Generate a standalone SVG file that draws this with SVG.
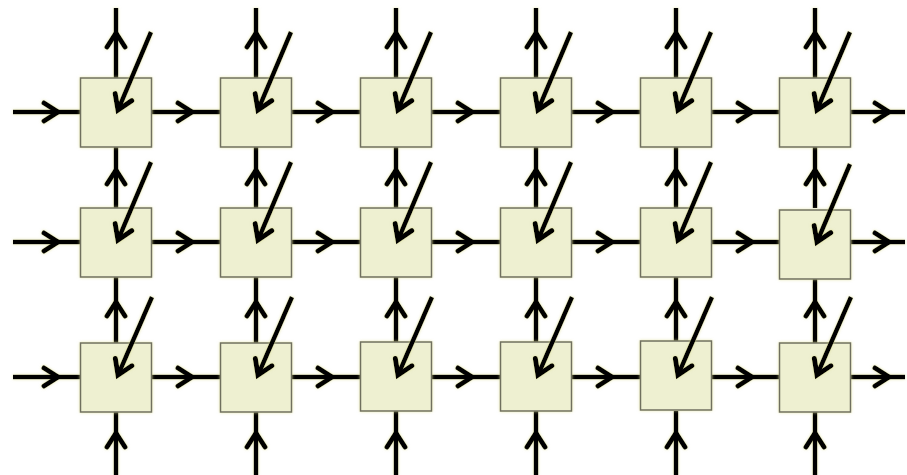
<svg xmlns="http://www.w3.org/2000/svg" width="907" height="475" viewBox="0 0 907 475">
  <style>
    .cell { fill: #eef0d1; stroke: #6f6f5f; stroke-width: 1.5; }
    .wire { fill: none; stroke: #000; stroke-width: 4.5; stroke-linecap: butt; }
    .flow { marker-mid: url(#chev); }
    .feed { marker-end: url(#chev); }
  </style>
  <defs>
    <marker id="chev" markerUnits="userSpaceOnUse" viewBox="-20 -15 26 30" markerWidth="26" markerHeight="30" refX="0" refY="0" orient="auto" overflow="visible">
      <path d="M-14,-9 L0,0 L-14,9" fill="none" stroke="#000" stroke-width="5" stroke-linejoin="miter" stroke-linecap="round"/>
    </marker>
    <filter id="halo" x="-10%" y="-10%" width="120%" height="120%">
      <feGaussianBlur in="SourceAlpha" stdDeviation="1.6" result="b"/>
      <feFlood flood-color="#d9da8c" flood-opacity="0.7"/>
      <feComposite in2="b" operator="in" result="g"/>
      <feMerge><feMergeNode in="g"/><feMergeNode in="SourceGraphic"/></feMerge>
    </filter>
  </defs>

  <!-- horizontal and vertical links between cells -->
  <g id="connectors" class="wire" filter="url(#halo)">
    <!-- row 1 (y=112) -->
    <path class="flow" d="M13,112 L58,112 L80,112"/>
    <path class="flow" d="M151,112 L192,112 L221,112"/>
    <path class="flow" d="M291,112 L332,112 L361,112"/>
    <path class="flow" d="M431,112 L472,112 L501,112"/>
    <path class="flow" d="M571,112 L612,112 L641,112"/>
    <path class="flow" d="M711,112 L752,112 L780,112"/>
    <path class="flow" d="M850,112 L889,112 L905,112"/>
    <!-- row 2 (y=242) -->
    <path class="flow" d="M13,242 L58,242 L80,242"/>
    <path class="flow" d="M151,242 L192,242 L221,242"/>
    <path class="flow" d="M291,242 L332,242 L361,242"/>
    <path class="flow" d="M431,242 L472,242 L501,242"/>
    <path class="flow" d="M571,242 L612,242 L641,242"/>
    <path class="flow" d="M711,242 L752,242 L780,242"/>
    <path class="flow" d="M850,242 L889,242 L905,242"/>
    <!-- row 3 (y=377) -->
    <path class="flow" d="M13,377 L58,377 L80,377"/>
    <path class="flow" d="M151,377 L192,377 L221,377"/>
    <path class="flow" d="M291,377 L332,377 L361,377"/>
    <path class="flow" d="M431,377 L472,377 L501,377"/>
    <path class="flow" d="M571,377 L612,377 L641,377"/>
    <path class="flow" d="M711,377 L752,377 L780,377"/>
    <path class="flow" d="M850,377 L889,377 L905,377"/>

    <!-- columns: bottom entry, between rows, top exit -->
    <path class="flow" d="M116,475 L116,433 L116,411"/>
    <path class="flow" d="M116,343 L116,302 L116,277"/>
    <path class="flow" d="M116,208 L116,170 L116,147"/>
    <path class="flow" d="M116,78 L116,33 L116,8"/>

    <path class="flow" d="M256,475 L256,433 L256,411"/>
    <path class="flow" d="M256,343 L256,302 L256,277"/>
    <path class="flow" d="M256,208 L256,170 L256,147"/>
    <path class="flow" d="M256,78 L256,33 L256,8"/>

    <path class="flow" d="M396,475 L396,433 L396,411"/>
    <path class="flow" d="M396,343 L396,302 L396,277"/>
    <path class="flow" d="M396,208 L396,170 L396,147"/>
    <path class="flow" d="M396,78 L396,33 L396,8"/>

    <path class="flow" d="M536,475 L536,433 L536,411"/>
    <path class="flow" d="M536,343 L536,302 L536,277"/>
    <path class="flow" d="M536,208 L536,170 L536,147"/>
    <path class="flow" d="M536,78 L536,33 L536,8"/>

    <path class="flow" d="M676,475 L676,433 L676,411"/>
    <path class="flow" d="M676,343 L676,302 L676,277"/>
    <path class="flow" d="M676,208 L676,170 L676,147"/>
    <path class="flow" d="M676,78 L676,33 L676,8"/>

    <path class="flow" d="M815,475 L815,433 L815,411"/>
    <path class="flow" d="M815,343 L815,302 L815,277"/>
    <path class="flow" d="M815,208 L815,170 L815,147"/>
    <path class="flow" d="M815,78 L815,33 L815,8"/>
  </g>

  <!-- processing cells -->
  <g filter="url(#halo)">
    <g id="cell-1-1"><rect class="cell" x="80.5" y="78" width="71" height="69"/></g>
    <g id="cell-1-2"><rect class="cell" x="220.5" y="78" width="71" height="69"/></g>
    <g id="cell-1-3"><rect class="cell" x="360.5" y="78" width="71" height="69"/></g>
    <g id="cell-1-4"><rect class="cell" x="500.5" y="78" width="71" height="69"/></g>
    <g id="cell-1-5"><rect class="cell" x="640.5" y="78" width="71" height="69"/></g>
    <g id="cell-1-6"><rect class="cell" x="779.5" y="78" width="71" height="69"/></g>

    <g id="cell-2-1"><rect class="cell" x="80.5" y="208" width="71" height="69"/></g>
    <g id="cell-2-2"><rect class="cell" x="220.5" y="208" width="71" height="69"/></g>
    <g id="cell-2-3"><rect class="cell" x="360.5" y="208" width="71" height="69"/></g>
    <g id="cell-2-4"><rect class="cell" x="500.5" y="208" width="71" height="69"/></g>
    <g id="cell-2-5"><rect class="cell" x="640.5" y="208" width="71" height="69"/></g>
    <g id="cell-2-6"><rect class="cell" x="779.5" y="210" width="71" height="69"/></g>

    <g id="cell-3-1"><rect class="cell" x="80.5" y="343" width="71" height="69"/></g>
    <g id="cell-3-2"><rect class="cell" x="220.5" y="343" width="71" height="69"/></g>
    <g id="cell-3-3"><rect class="cell" x="360.5" y="342" width="71" height="69"/></g>
    <g id="cell-3-4"><rect class="cell" x="500.5" y="342" width="71" height="69"/></g>
    <g id="cell-3-5"><rect class="cell" x="640.5" y="341" width="71" height="69"/></g>
    <g id="cell-3-6"><rect class="cell" x="779.5" y="343" width="71" height="69"/></g>
  </g>

  <!-- diagonal feed arrows into each cell -->
  <g id="feeds" class="wire" filter="url(#halo)">
    <path class="feed" d="M151,32 L118,110"/>
    <path class="feed" d="M291,32 L258,110"/>
    <path class="feed" d="M431,32 L398,110"/>
    <path class="feed" d="M571,32 L538,110"/>
    <path class="feed" d="M711,32 L678,110"/>
    <path class="feed" d="M850,32 L817,110"/>

    <path class="feed" d="M151,162 L118,240"/>
    <path class="feed" d="M291,162 L258,240"/>
    <path class="feed" d="M431,162 L398,240"/>
    <path class="feed" d="M571,162 L538,240"/>
    <path class="feed" d="M711,162 L678,240"/>
    <path class="feed" d="M850,164 L817,242"/>

    <path class="feed" d="M152,297 L118,375"/>
    <path class="feed" d="M292,297 L258,375"/>
    <path class="feed" d="M432,297 L398,375"/>
    <path class="feed" d="M572,297 L538,375"/>
    <path class="feed" d="M712,297 L678,375"/>
    <path class="feed" d="M851,297 L817,375"/>
  </g>
</svg>
